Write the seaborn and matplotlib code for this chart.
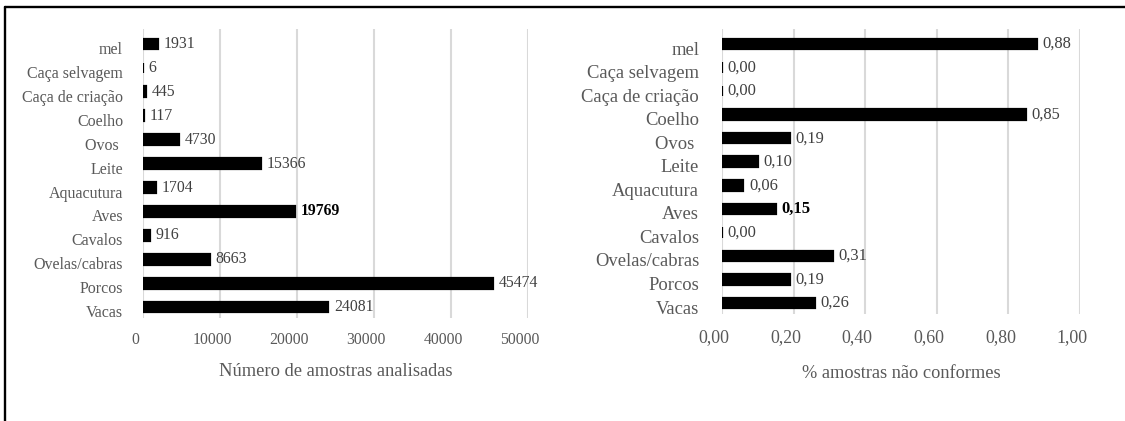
import matplotlib
matplotlib.use("Agg")
import matplotlib.pyplot as plt
import matplotlib.transforms as mtransforms
from matplotlib.lines import Line2D
import seaborn as sns
import pandas as pd

categories = ["mel", "Caça selvagem", "Caça de criação", "Coelho", "Ovos ", "Leite",
              "Aquacutura", "Aves", "Cavalos", "Ovelas/cabras", "Porcos", "Vacas"]
n_samples = [1931, 6, 445, 117, 4730, 15366, 1704, 19769, 916, 8663, 45474, 24081]
pct_nonconform = [0.88, 0.00, 0.00, 0.85, 0.19, 0.10, 0.06, 0.15, 0.00, 0.31, 0.19, 0.26]
left_ticks = [0, 10000, 20000, 30000, 40000, 50000]
right_ticks = [0.0, 0.2, 0.4, 0.6, 0.8, 1.0]
left_title = "Número de amostras analisadas"
right_title = "% amostras não conformes"
bold_category = "Aves"

sns.set_theme(style="white")
plt.rcParams["font.family"] = ["Liberation Serif", "DejaVu Serif"]

df = pd.DataFrame({"cat": categories, "n": n_samples, "p": pct_nonconform})

fig = plt.figure(figsize=(11.25, 4.21), dpi=100)
ax1 = fig.add_axes([143 / 1125, 0.2451, 385 / 1125, 0.6872])
ax2 = fig.add_axes([722 / 1125, 0.2551, 358 / 1125, 0.6767])

grey = "#595959"
valc = "#404040"


def style(ax, col, ticks, fmt, ysize, xsize, vsize, ypad, xpad, title, title_y, tsize):
    sns.barplot(data=df, y="cat", x=col, orient="h", color="black", width=0.45,
                ax=ax, saturation=1, edgecolor="black", linewidth=1.6)
    ax.set_ylim(11.45, -0.65)
    ax.set_xlim(ticks[0], ticks[-1])
    ax.set_xticks(ticks)
    ax.set_xticklabels([fmt(t) for t in ticks], fontsize=xsize, color=grey)
    ax.tick_params(axis="x", length=0, pad=xpad)
    ax.tick_params(axis="y", length=0, pad=ypad)
    xoff = mtransforms.ScaledTranslation(-8 / 100, 0, fig.dpi_scale_trans)
    for lab in ax.get_xticklabels():
        lab.set_transform(lab.get_transform() + xoff)
    ax.set_yticks(range(len(categories)))
    ax.set_yticklabels(categories, fontsize=ysize, color=grey)
    off = mtransforms.ScaledTranslation(0, -4 / 100, fig.dpi_scale_trans)
    for lab in ax.get_yticklabels():
        lab.set_transform(lab.get_transform() + off)
    ax.set_ylabel("")
    ax.set_xlabel("")
    for s in ax.spines.values():
        s.set_visible(False)
    ax.grid(axis="x", color="#d9d9d9", linewidth=1.5)
    ax.grid(axis="y", visible=False)
    ax.set_axisbelow(True)
    vals = df[col].tolist()
    texts = ax.bar_label(ax.containers[0], labels=[fmt(v) if col == "p" else str(v) for v in vals],
                         padding=4, fontsize=vsize, color=valc)
    for t, c in zip(texts, categories):
        if c == bold_category:
            t.set_fontweight("bold")
            t.set_color("black")
    ax.text(0.5, title_y, title, transform=ax.transAxes, ha="center", va="center",
            fontsize=tsize, color=grey)


style(ax1, "n", left_ticks, lambda v: f"{int(v)}", 11.5, 11.3, 11.3, 14.4, 10,
      left_title, -0.184, 13.3)
style(ax2, "p", right_ticks, lambda v: f"{v:.2f}".replace(".", ","), 13.4, 12.9, 11.9, 16.5, 11,
      right_title, -0.2085, 13.2)

lw = 1.7
fig.add_artist(Line2D([5 / 1125, 1.0], [1 - 7 / 421, 1 - 7 / 421], color="black",
                      linewidth=lw, transform=fig.transFigure))
fig.add_artist(Line2D([5 / 1125, 5 / 1125], [0.0, 1 - 7 / 421], color="black",
                      linewidth=lw, transform=fig.transFigure))

fig.savefig("out.png", dpi=100, facecolor="white")
